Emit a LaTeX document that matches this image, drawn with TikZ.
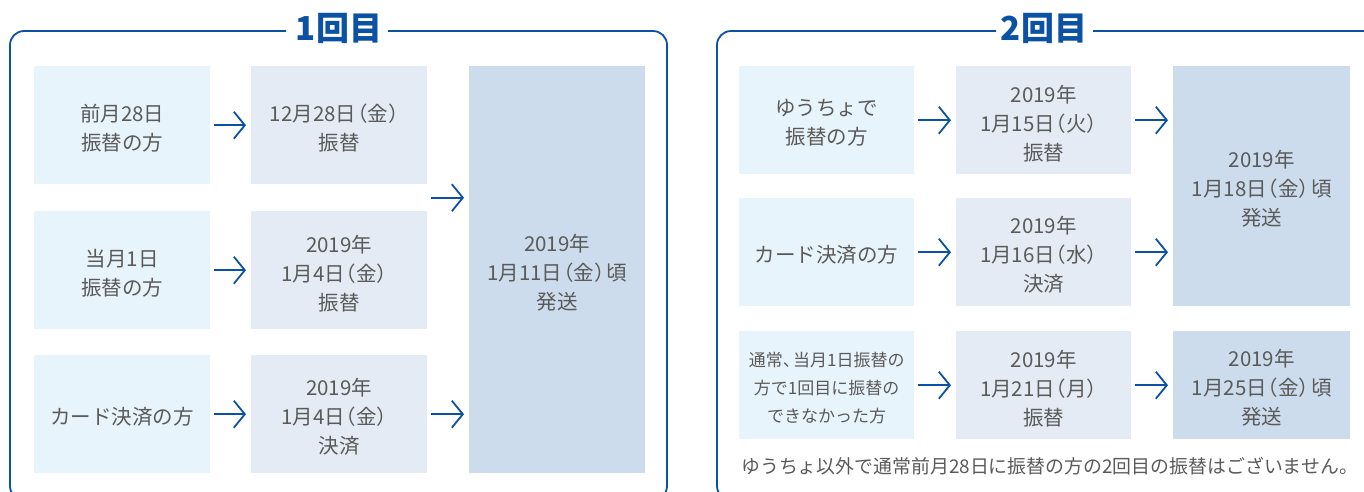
\documentclass[tikz,border=0pt]{standalone}
\usepackage{fontspec}
\setmainfont{Noto Sans CJK JP}
\usetikzlibrary{arrows.meta,calc}
\definecolor{fblue}{HTML}{0B52A4}
\definecolor{txt}{HTML}{5A5A5A}
\definecolor{c1}{HTML}{E8F4FC}
\definecolor{c2}{HTML}{E4EBF4}
\definecolor{c3}{HTML}{CCDCEC}
\newcommand\kk[1]{\hspace{-0.45em}（#1）\hspace{-0.4em}}
\tikzset{
  box/.style={anchor=north west, inner sep=0pt},
  b1/.style={box, fill=c1},
  b2/.style={box, fill=c2},
  b3/.style={box, fill=c3},
  lbl/.style={inner sep=0pt, align=center, text=txt, font=\fontsize{20.5}{29}\selectfont},
  arr/.style={draw=fblue, line width=1.8pt, -{Straight Barb[length=11pt,width=27pt,line width=1.8pt]},
    shorten <=4pt, shorten >=5pt},
  frame/.style={draw=fblue, line width=1.8pt, rounded corners=14pt},
  ttl/.style={text=fblue, inner sep=0pt, font=\fontsize{33}{33}\selectfont\bfseries},
}
\begin{document}
\begin{tikzpicture}[x=1pt,y=-1pt]
\useasboundingbox (0,0) rectangle (1364,491);
\begin{scope}
\clip (0,0) rectangle (1364,491);
% frames
\node[ttl] (t1) at (339,28) {1回目};
\node[ttl] (t2) at (1044,28) {2回目};
\draw[frame] (286,31) -- (10,31) -- (10,500) -- (667,500) -- (667,31) -- (388,31);
\draw[frame] (996,31) -- (717,31) -- (717,500) -- (1390,500) -- (1390,31) -- (1093,31);

% left panel
\node[b1, minimum width=176pt, minimum height=118pt] (a1) at (34,66) {};
\node[b1, minimum width=176pt, minimum height=118pt] (a2) at (34,211) {};
\node[b1, minimum width=176pt, minimum height=118pt] (a3) at (34,355) {};
\node[b2, minimum width=176pt, minimum height=118pt] (m1) at (251,66) {};
\node[b2, minimum width=176pt, minimum height=118pt] (m2) at (251,211) {};
\node[b2, minimum width=176pt, minimum height=118pt] (m3) at (251,355) {};
\node[b3, minimum width=176pt, minimum height=407pt] (r) at (469,66) {};
\node[lbl] (ta1) at ($(a1.center)+(0,3)$) {前月28日\\振替の方};
\node[lbl] (ta2) at ($(a2.center)+(0,3)$) {当月1日\\振替の方};
\node[lbl] (ta3) at ($(a3.center)+(0,3)$) {カード決済の方};
\node[lbl] (tm1) at ($(m1.center)+(0,3)$) {12月28日\kk{金}\\振替};
\node[lbl] (tm2) at ($(m2.center)+(0,3)$) {2019年\\1月4日\kk{金}\\振替};
\node[lbl] (tm3) at ($(m3.center)+(0,3)$) {2019年\\1月4日\kk{金}\\決済};
\node[lbl] (tr) at ($(r.center)+(0,3)$) {2019年\\1月11日\kk{金}頃\\発送};
\draw[arr] (a1) -- (m1);
\draw[arr] (a2) -- (m2);
\draw[arr] (a3) -- (m3);
\coordinate (j1) at ($(m1.south east)!0.5!(m2.north east)$);
\draw[arr] (j1) -- (j1 -| r.west);
\draw[arr] (m3) -- (m3 -| r.west);

% right panel
\node[b1, minimum width=175pt, minimum height=108pt] (p1) at (739,66) {};
\node[b1, minimum width=175pt, minimum height=108pt] (p2) at (739,198) {};
\node[b1, minimum width=175pt, minimum height=108pt] (p3) at (739,331) {};
\node[b2, minimum width=175pt, minimum height=108pt] (q1) at (956,66) {};
\node[b2, minimum width=175pt, minimum height=108pt] (q2) at (956,198) {};
\node[b2, minimum width=175pt, minimum height=108pt] (q3) at (956,331) {};
\node[b3, minimum width=177pt, minimum height=240pt] (s) at (1173,66) {};
\node[b3, minimum width=177pt, minimum height=108pt] (s3) at (1173,331) {};
\node[lbl] (tp1) at ($(p1.center)+(0,3)$) {ゆうちょで\\振替の方};
\node[lbl] (tp2) at ($(p2.center)+(0,3)$) {カード決済の方};
\node[lbl, font=\fontsize{17}{28}\selectfont] (tp3) at ($(p3.center)+(0,3)$) {通常、\hspace{-0.4em}当月1日振替の\\方で1回目に振替の\\できなかった方};
\node[lbl] (tq1) at ($(q1.center)+(0,3)$) {2019年\\1月15日\kk{火}\\振替};
\node[lbl] (tq2) at ($(q2.center)+(0,3)$) {2019年\\1月16日\kk{水}\\決済};
\node[lbl] (tq3) at ($(q3.center)+(0,3)$) {2019年\\1月21日\kk{月}\\振替};
\node[lbl] (ts) at ($(s.center)+(0,3)$) {2019年\\1月18日\kk{金}頃\\発送};
\node[lbl] (ts3) at ($(s3.center)+(0,3)$) {2019年\\1月25日\kk{金}頃\\発送};
\draw[arr] (p1) -- (q1);
\draw[arr] (p2) -- (q2);
\draw[arr] (p3) -- (q3);
\draw[arr] (q1) -- (q1 -| s.west);
\draw[arr] (q2) -- (q2 -| s.west);
\draw[arr] (q3) -- (s3);
\node[anchor=west, inner sep=0pt, text=txt, font=\fontsize{18.9}{20}\selectfont] (note) at (741,466) {ゆうちょ以外で通常前月28日に振替の方の2回目の振替はございません。};
\end{scope}
\end{tikzpicture}
\end{document}
